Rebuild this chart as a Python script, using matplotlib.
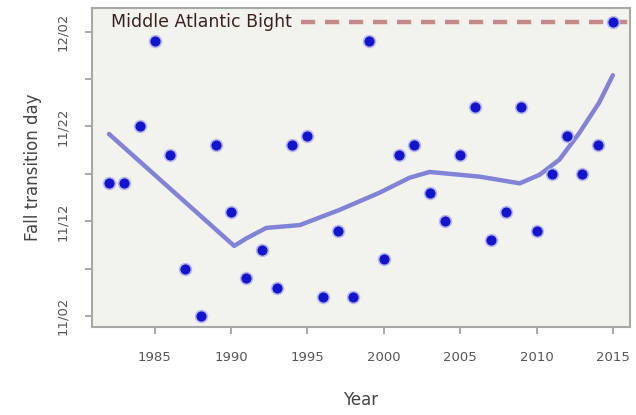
import datetime

import numpy as np
import matplotlib
matplotlib.use('Agg')
import matplotlib.pyplot as plt
from matplotlib.ticker import FixedLocator, FuncFormatter

# Fall transition day (day of year) by year
years = list(range(1982, 2016))
fall_day = [320, 320, 326, 335, 323, 311, 306, 324, 317, 310,
            313, 309, 324, 325, 308, 315, 308, 335, 312, 323,
            324, 319, 316, 323, 328, 314, 317, 328, 315, 321,
            325, 321, 324, 337]

# smoothed trend
smooth_years = [1982, 1990.2, 1991, 1992.3, 1994.5, 1997.1, 1999.7, 2001.7, 2003.0,
                2005.0, 2006.3, 2008.9, 2010.2, 2011.5, 2012.8, 2014.1, 2015]
smooth_day = [325.2, 313.4, 314.2, 315.3, 315.6, 317.2, 319.0, 320.6, 321.2,
              320.9, 320.7, 320.0, 320.9, 322.5, 325.3, 328.5, 331.4]

region_label = 'Middle Atlantic Bight'
region_level = 337

major_days = [306, 316, 326, 336]
minor_days = [311, 321, 331]
x_ticks = [1985, 1990, 1995, 2000, 2005, 2010, 2015]


def day_label(d, pos=None):
    dt = datetime.date(2001, 1, 1) + datetime.timedelta(days=int(round(d)) - 1)
    return dt.strftime('%m/%d')


fig = plt.figure(figsize=(6.36, 4.15), dpi=100)
ax = fig.add_axes([0.145, 0.212, 0.845, 0.769])
ax.set_facecolor('#f3f3ee')

ax.set_xlim(1980.9, 2016.1)
ax.set_ylim(304.85, 338.5)

ax.hlines(region_level, years[0], 2016.1, color='#c48a8a', lw=3.2,
          linestyles=[(0, (3.2, 2.2))], zorder=1)
ax.text(years[0] + 0.1, region_level, region_label, color='#3a2222', fontsize=12.5,
        va='center', ha='left', zorder=2,
        bbox=dict(boxstyle='square,pad=0.15', fc='#f3f3ee', ec='none'))

ax.plot(smooth_years, smooth_day, color='#8282d6', lw=3.2, solid_capstyle='round',
        solid_joinstyle='round', zorder=3)
ax.plot(years, fall_day, 'o', color='#1414cc', markersize=8.5,
        markeredgecolor='#b8b8f0', markeredgewidth=1.2, zorder=4)

ax.xaxis.set_major_locator(FixedLocator(x_ticks))
ax.yaxis.set_major_locator(FixedLocator(major_days))
ax.yaxis.set_minor_locator(FixedLocator(minor_days))
ax.yaxis.set_major_formatter(FuncFormatter(day_label))

for lab in ax.get_yticklabels():
    lab.set_rotation(90)
    lab.set_va('center')

ax.tick_params(axis='both', which='both', colors='#9a9a9a', labelcolor='#555555',
               labelsize=9.5, length=5, width=1.2)
ax.tick_params(axis='y', pad=12)
ax.tick_params(axis='x', pad=12)

for s in ax.spines.values():
    s.set_color('#a8a8a8')
    s.set_linewidth(1.5)

ax.set_xlabel('Year', fontsize=12, color='#444444', labelpad=20)
ax.set_ylabel('Fall transition day', fontsize=12, color='#444444', labelpad=10)

plt.savefig('out.png', dpi=100)
